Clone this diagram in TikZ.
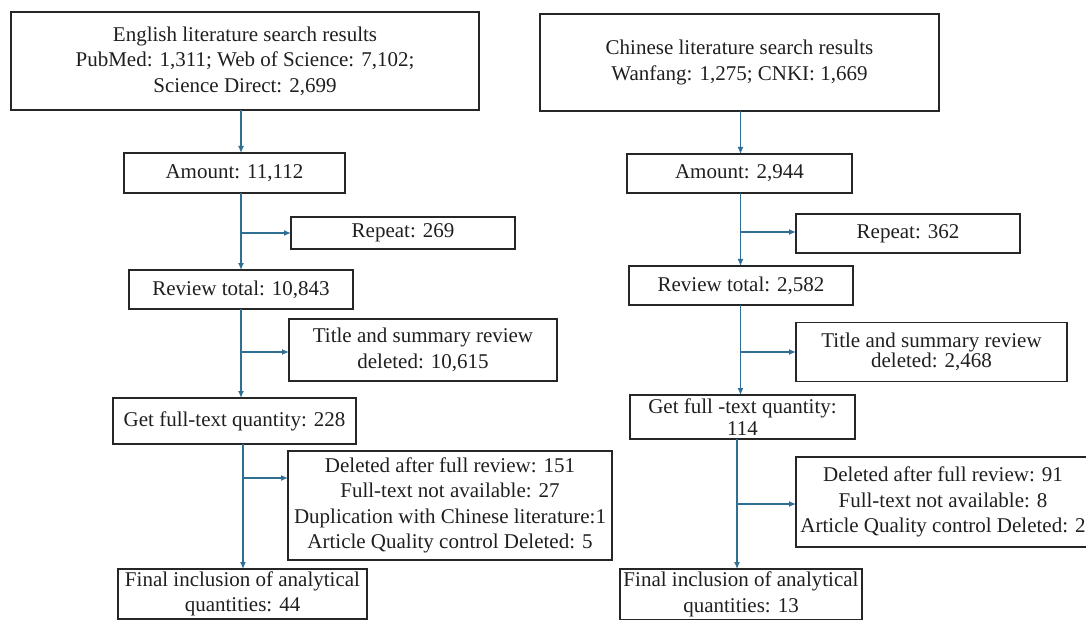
\documentclass[tikz,border=0pt]{standalone}
\usepackage{fontspec}
\setmainfont{Liberation Serif}
\usetikzlibrary{arrows.meta}
\definecolor{flowblue}{RGB}{47,111,148}

\begin{document}
\begin{tikzpicture}[x=1pt,y=-1pt,
  box/.style ={draw=black!85, line width=1.4pt, inner sep=1pt, outer sep=0pt,
               align=center, text=black!88, font=\fontsize{21}{25.5}\selectfont},
  flow/.style={draw=flowblue, line width=1.3pt, -{Latex[length=7pt,width=6pt]}}]
  \useasboundingbox (0,0) rectangle (1086,620);

  % ---- English literature (left column) ----
  \node[box, minimum width=468pt, minimum height=98pt] (engS) at (245,61)
    {English literature search results\\PubMed: 1,311; Web of Science: 7,102;\\Science Direct: 2,699};
  \node[box, minimum width=221pt, minimum height=40pt] (engAmt) at (234.5,173) {Amount: 11,112};
  \node[box, minimum width=224pt, minimum height=32pt] (engRep) at (403,233) {Repeat: 269};
  \node[box, minimum width=224pt, minimum height=39pt] (engRev) at (241,289.5) {Review total: 10,843};
  \node[box, minimum width=268pt, minimum height=62pt] (engTit) at (423,350)
    {Title and summary review\\deleted: 10,615};
  \node[box, minimum width=243pt, minimum height=46pt] (engGet) at (234.5,421) {Get full-text quantity: 228};
  \node[box, minimum width=324pt, minimum height=109pt] (engDel) at (450,505.5)
    {Deleted after full review: 151\\Full-text not available: 27\\Duplication with Chinese literature:1\\Article Quality control Deleted: 5};
  \node[box, minimum width=249pt, minimum height=50pt] (engFin) at (242.5,594)
    {Final inclusion of analytical\\quantities: 44};
  \coordinate (engBr) at (243,478);

  % trunk + side branches
  \draw[flow] (engRev.north |- engS.south) -- (engRev.north |- engAmt.north);
  \draw[flow] (engRev.north |- engAmt.south) -- (engRev.north);
  \draw[flow] (engRev.north |- engRep.west) -- (engRep.west);
  \draw[flow] (engRev.south) -- (engRev.south |- engGet.north);
  \draw[flow] (engRev.south |- 0,352) -- (engTit.west |- 0,352);
  \draw[flow] (engBr |- engGet.south) -- (engBr |- engFin.north);
  \draw[flow] (engBr) -- (engBr -| engDel.west);

  % ---- Chinese literature (right column) ----
  \node[box, minimum width=399pt, minimum height=97pt] (chiS) at (739.5,62.5)
    {Chinese literature search results\\Wanfang: 1,275; CNKI: 1,669};
  \node[box, minimum width=225pt, minimum height=39pt] (chiAmt) at (739.5,173.5) {Amount: 2,944};
  \node[box, minimum width=224pt, minimum height=39pt] (chiRep) at (908,233.5) {Repeat: 362};
  \node[box, minimum width=224pt, minimum height=39pt] (chiRev) at (741,285.5) {Review total: 2,582};
  \node[box, minimum width=271pt, minimum height=59pt, font=\fontsize{21}{19}\selectfont] (chiTit) at (931.5,352)
    {Title and summary review\\deleted: 2,468};
  \node[box, minimum width=225pt, minimum height=44pt, font=\fontsize{21}{22}\selectfont] (chiGet) at (742.5,417)
    {Get full -text quantity:\\114};
  \node[box, minimum width=294pt, minimum height=90pt] (chiDel) at (943,502)
    {Deleted after full review: 91\\Full-text not available: 8\\Article Quality control Deleted: 2};
  \node[box, minimum width=242pt, minimum height=51pt] (chiFin) at (741,594.5)
    {Final inclusion of analytical\\quantities: 13};
  \coordinate (chiTr) at (740.5,232);
  \coordinate (chiBr) at (737,504);

  % trunk + side branches
  \draw[flow] (chiTr |- chiS.south) -- (chiTr |- chiAmt.north);
  \draw[flow] (chiTr |- chiAmt.south) -- (chiTr |- chiRev.north);
  \draw[flow] (chiTr) -- (chiTr -| chiRep.west);
  \draw[flow] (chiTr |- chiRev.south) -- (chiTr |- chiGet.north);
  \draw[flow] (chiTr |- chiTit.west) -- (chiTit.west);
  \draw[flow] (chiBr |- chiGet.south) -- (chiBr |- chiFin.north);
  \draw[flow] (chiBr) -- (chiBr -| chiDel.west);
\end{tikzpicture}
\end{document}
